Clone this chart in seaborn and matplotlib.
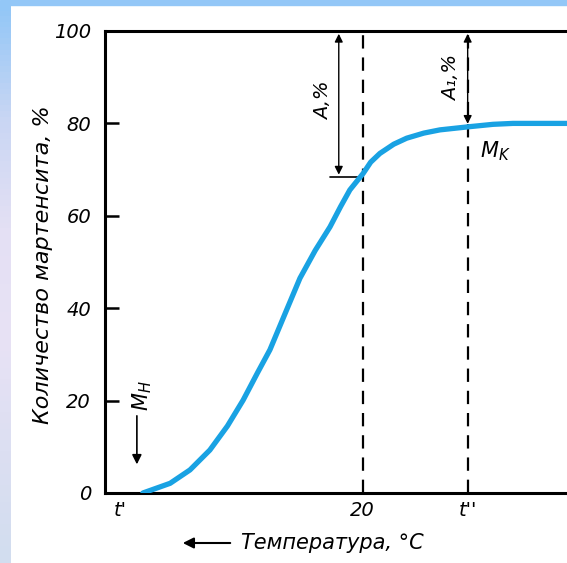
import matplotlib
matplotlib.use('Agg')
import matplotlib.pyplot as plt
import matplotlib.patches as mpatches
from matplotlib.colors import LinearSegmentedColormap
import numpy as np
import seaborn as sns
import pandas as pd

# curve (x in arbitrary temperature-axis units, 0..100)
temp_pos = [8.2, 14.1, 18.4, 22.7, 26.5, 29.9, 33.0, 35.7, 39.3, 42.2, 45.5, 48.7,
            51.0, 53.0, 55.9, 57.5, 59.5, 62.5, 65.3, 69.0, 72.5, 79.0, 84.0, 88.3, 100.0]
martensite = [0.0, 2.1, 5.0, 9.3, 14.5, 20.1, 26.0, 31.0, 39.6, 46.5, 52.5, 57.6,
              62.0, 65.6, 69.2, 71.6, 73.5, 75.5, 76.8, 77.9, 78.6, 79.3, 79.8, 80.0, 80.0]

x_ticks = [3.2, 55.8, 78.5]
x_labels = ["t'", "20", "t''"]
y_ticks = [0, 20, 40, 60, 80, 100]

t_room = 55.8      # 20 °C
t_second = 78.5    # t''
a_level = 68.3     # amount at 20 °C
a1_level = 79.3    # amount at t''

df = pd.DataFrame({'temp': temp_pos, 'amount': martensite})

sns.set_style('ticks')
plt.rcParams['font.family'] = ['DejaVu Sans']
plt.rcParams['font.style'] = 'italic'
plt.rcParams['text.color'] = 'black'
plt.rcParams['xtick.color'] = 'black'
plt.rcParams['ytick.color'] = 'black'
plt.rcParams['axes.labelcolor'] = 'black'

fig = plt.figure(figsize=(5.67, 5.63), dpi=100)
fig.patch.set_facecolor('white')

# blue frame of the slide
fig.patches.append(mpatches.Rectangle((0, 1 - 5 / 563), 1, 5 / 563, transform=fig.transFigure,
                                      color='#93c7f7', zorder=0))
band = fig.add_axes([0, 0, 11 / 567, 1 - 5 / 563])
band_cmap = LinearSegmentedColormap.from_list('band', ['#93c7f7', '#c9d6f3', '#e4e0f4',
                                                       '#e8e2f5', '#dcdff2', '#d2ddef'])
band.imshow(np.linspace(0, 1, 100).reshape(-1, 1), aspect='auto', cmap=band_cmap)
band.axis('off')

ax = fig.add_axes([105 / 567, 70 / 563, (567 - 105) / 567, 462 / 563])
ax.set_facecolor('white')

sns.lineplot(data=df, x='temp', y='amount', ax=ax, color='#19a2e3', lw=3.8,
             solid_capstyle='round', zorder=5)

for xv in [t_room, t_second]:
    ax.plot([xv, xv], [0, 100], color='black', lw=1.6, ls=(0, (6, 4)), zorder=3)

# A,% dimension
ax.annotate('', xy=(50.6, 100), xytext=(50.6, a_level),
            arrowprops=dict(arrowstyle='<|-|>', color='black', lw=1.0, mutation_scale=12))
ax.plot([48.7, t_room], [a_level, a_level], color='black', lw=1.2)
ax.text(47.2, 85.0, 'A,%', rotation=90, ha='center', va='center', fontsize=14)

# A1,% dimension
ax.annotate('', xy=(t_second, 100), xytext=(t_second, a1_level),
            arrowprops=dict(arrowstyle='<|-|>', color='black', lw=1.0, mutation_scale=12))
ax.text(75.1, 89.8, 'A\u2081,%', rotation=90, ha='center', va='center', fontsize=14)

ax.text(84.4, 74.0, r'$M_K$', ha='center', va='center', fontsize=15)
ax.text(8.0, 21.0, r'$M_H$', rotation=90, ha='center', va='center', fontsize=15)
ax.annotate('', xy=(6.9, 5.6), xytext=(6.9, 17.3),
            arrowprops=dict(arrowstyle='-|>', color='black', lw=1.2, mutation_scale=14))

ax.set_xlim(0, 100)
ax.set_ylim(0, 100)
ax.set_yticks(y_ticks)
ax.set_yticklabels([str(v) for v in y_ticks], fontsize=14)
ax.set_xticks(x_ticks)
ax.set_xticklabels(x_labels, fontsize=14)
ax.tick_params(axis='y', direction='in', length=10, width=1.8, pad=10)
ax.tick_params(axis='x', length=0, pad=6)
ax.set_xlabel('')
ax.set_ylabel('')

for side in ['left', 'bottom', 'top']:
    ax.spines[side].set_linewidth(2.2)
    ax.spines[side].set_color('black')
ax.spines['right'].set_visible(False)

fig.text(43 / 567, 1 - 265 / 563, 'Количество мартенсита, %', rotation=90,
         ha='center', va='center', fontsize=16)
fig.text(332 / 567, 1 - 543 / 563, 'Температура, °C', ha='center', va='center', fontsize=15)
fig.patches.append(mpatches.FancyArrowPatch((233 / 567, 1 - 543 / 563), (180 / 567, 1 - 543 / 563),
                                            transform=fig.transFigure, arrowstyle='-|>',
                                            mutation_scale=16, color='black', lw=1.5))

fig.savefig('out.png', dpi=100, facecolor=fig.get_facecolor())
